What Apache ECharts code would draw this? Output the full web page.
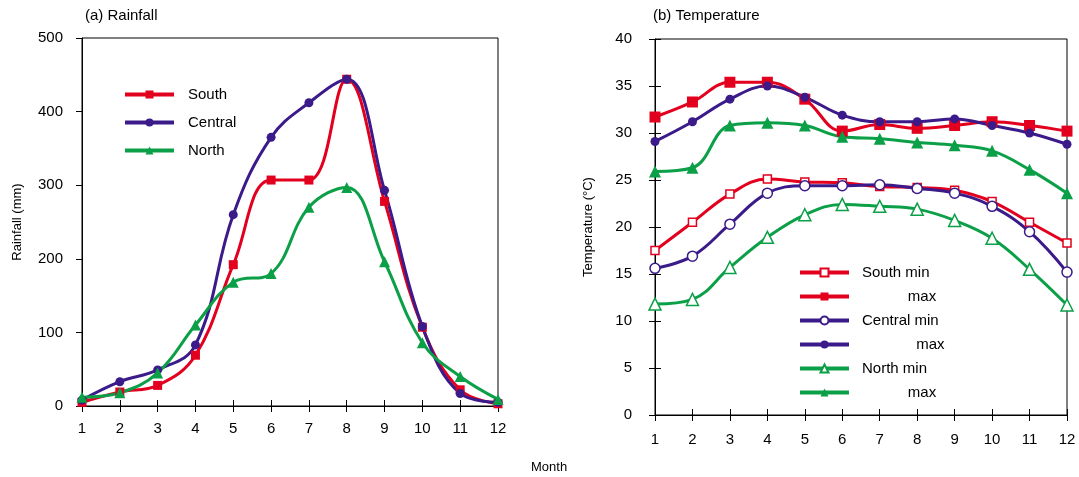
<!DOCTYPE html>
<html>
<head>
<meta charset="utf-8">
<script src="https://cdn.jsdelivr.net/npm/echarts@6/dist/echarts.min.js"></script>
<style>html,body{margin:0;padding:0;background:#fff}#c{width:1079px;height:477px}</style>
</head>
<body>
<div id="c"></div>
<script>
var months = [1,2,3,4,5,6,7,8,9,10,11,12];
var rainSouth   = [5, 19, 28, 69, 192, 307, 307, 444, 278, 107, 22, 3];
var rainCentral = [8, 33, 49, 83, 260, 365, 412, 444, 293, 108, 17, 5];
var rainNorth   = [12, 18, 45, 110, 168, 180, 270, 297, 196, 86, 40, 9];
var southMin   = [17.5, 20.5, 23.5, 25.1, 24.8, 24.7, 24.3, 24.2, 23.9, 22.7, 20.5, 18.3];
var southMax   = [31.7, 33.3, 35.4, 35.4, 33.6, 30.2, 30.9, 30.5, 30.8, 31.2, 30.8, 30.2];
var centralMin = [15.6, 16.9, 20.3, 23.6, 24.4, 24.4, 24.5, 24.1, 23.6, 22.2, 19.5, 15.2];
var centralMax = [29.1, 31.2, 33.6, 35.0, 33.8, 31.9, 31.2, 31.2, 31.5, 30.8, 30.0, 28.8];
var northMin   = [11.8, 12.3, 15.7, 18.9, 21.3, 22.4, 22.2, 21.9, 20.7, 18.8, 15.5, 11.7];
var northMax   = [25.9, 26.3, 30.8, 31.1, 30.8, 29.6, 29.4, 29.0, 28.7, 28.1, 26.1, 23.6];
var rainTicks = [0, 100, 200, 300, 400, 500];
var tempTicks = [0, 5, 10, 15, 20, 25, 30, 35, 40];

var RED = '#e2001e', PURPLE = '#3b1a8a', GREEN = '#0b9f47';
var FONT = 'Liberation Sans, Arial, sans-serif';

function pairs(vals){ return months.map(function(m,i){ return [m, vals[i]]; }); }

function xAx(grid, margin, inside, showLabel){
  return {
    type:'value', gridIndex:grid, min:1, max:12, interval:1, position:'bottom',
    axisLine:{show:!inside, onZero:false, lineStyle:{color:'#000', width:1}},
    axisTick:{show:true, inside:inside, length:6, lineStyle:{color:'#000'}},
    axisLabel:{show:showLabel, margin:margin, color:'#000', fontSize:15, fontFamily:FONT},
    splitLine:{show:false}
  };
}
function yAx(grid, ticks, margin, name, gap, inside){
  return {
    type:'value', gridIndex:grid, position:'left',
    min:ticks[0], max:ticks[ticks.length-1], interval:ticks[1]-ticks[0],
    name: inside ? '' : name, nameLocation:'middle', nameGap:gap, nameRotate:90,
    nameTextStyle:{color:'#000', fontSize:13, fontFamily:FONT},
    axisLine:{show:!inside, onZero:false, lineStyle:{color:'#000', width:1}},
    axisTick:{show:true, inside:inside, length:6, lineStyle:{color:'#000'}},
    axisLabel:{show:!inside, margin:margin, color:'#000', fontSize:15, fontFamily:FONT},
    splitLine:{show:false}
  };
}

function ser(name, vals, color, symbol, size, hollow, xi, yi){
  return {
    name:name, type:'line', xAxisIndex:xi, yAxisIndex:yi, data:pairs(vals),
    smooth:0.4, symbol:symbol, symbolSize:size, showSymbol:true,
    lineStyle:{color:color, width:3},
    itemStyle:{color: hollow ? '#fff' : color, borderColor:color, borderWidth: hollow ? 1.5 : 0},
    emphasis:{disabled:true}, z: hollow ? 3 : 2
  };
}

var sp = function(n){ return new Array(n+1).join(' '); };

var option = {
  animation:false,
  backgroundColor:'#fff',
  title:[
    {text:'(a) Rainfall', left:85, top:8, padding:0, textStyle:{fontSize:15, fontWeight:'normal', color:'#000', fontFamily:FONT}},
    {text:'(b) Temperature', left:653, top:8, padding:0, textStyle:{fontSize:15, fontWeight:'normal', color:'#000', fontFamily:FONT}},
    {text:'Month', left:531, top:461, padding:0, textStyle:{fontSize:13, fontWeight:'normal', color:'#000', fontFamily:FONT}}
  ],
  grid:[
    {left:82, top:38, width:416, height:368, show:true, borderColor:'#000', borderWidth:1, backgroundColor:'transparent'},
    {left:655, top:39, width:412, height:376, show:true, borderColor:'#000', borderWidth:1, backgroundColor:'transparent'}
  ],
  xAxis:[
    xAx(0, 15, false, true),
    xAx(0, 15, true, false),
    xAx(1, 17, false, true),
    xAx(1, 17, true, false)
  ],
  yAxis:[
    yAx(0, rainTicks, 19, 'Rainfall (mm)', 58, false),
    yAx(1, tempTicks, 23, 'Temperature (\u00b0C)', 60, false),
    yAx(1, tempTicks, 23, '', 60, true)
  ],
  legend:[
    {data:['South','Central','North'], orient:'vertical', left:123, top:87, padding:0, itemWidth:49, itemHeight:10, itemGap:13,
     lineStyle:{width:4},
     textStyle:{fontSize:15, color:'#000', fontFamily:FONT, padding:[0,0,0,9]}},
    {data:['South min','South max','Central min','Central max','North min','North max'], orient:'vertical', left:798, top:265, padding:0,
     itemWidth:49, itemHeight:10, itemGap:9,
     lineStyle:{width:4},
     formatter:function(n){
       if(n==='South max' || n==='North max') return sp(11)+'max';
       if(n==='Central max') return sp(13)+'max';
       return n;
     },
     textStyle:{fontSize:15, color:'#000', fontFamily:FONT, padding:[0,0,0,8]}}
  ],
  series:[
    ser('South', rainSouth, RED, 'rect', 9, false, 0, 0),
    ser('Central', rainCentral, PURPLE, 'circle', 9, false, 0, 0),
    ser('North', rainNorth, GREEN, 'triangle', 11, false, 0, 0),
    ser('South min', southMin, RED, 'rect', 8, true, 2, 1),
    ser('South max', southMax, RED, 'rect', 11, false, 2, 1),
    ser('Central min', centralMin, PURPLE, 'circle', 10, true, 2, 1),
    ser('Central max', centralMax, PURPLE, 'circle', 9, false, 2, 1),
    ser('North min', northMin, GREEN, 'triangle', 12, true, 2, 1),
    ser('North max', northMax, GREEN, 'triangle', 12, false, 2, 1)
  ]
};
echarts.init(document.getElementById('c')).setOption(option);
</script>
</body>
</html>
